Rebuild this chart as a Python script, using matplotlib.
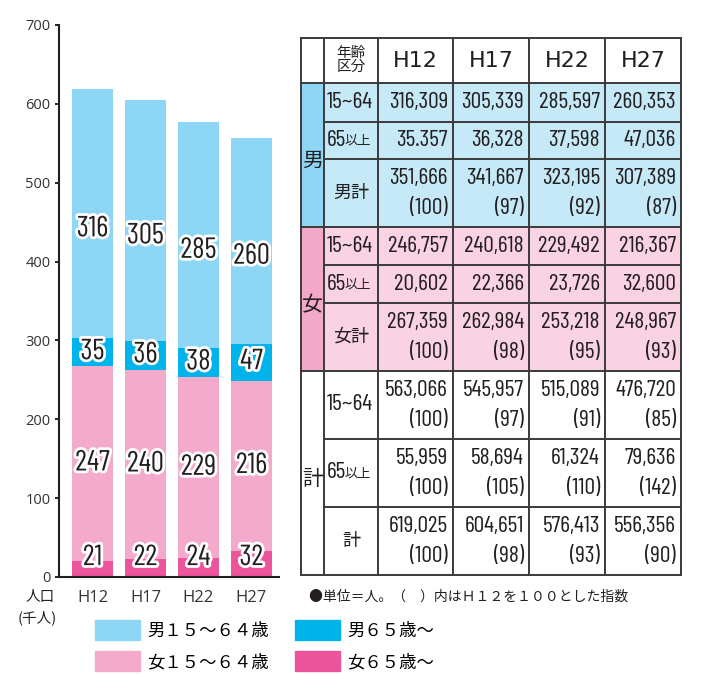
import numpy as np
import matplotlib.pyplot as plt
import matplotlib.patheffects as pe
from matplotlib.patches import Rectangle, Patch

# data (people)
years = ["H12", "H17", "H22", "H27"]
male_1564 = [316309, 305339, 285597, 260353]
male_65 = [35357, 36328, 37598, 47036]
male_total = [351666, 341667, 323195, 307389]
female_1564 = [246757, 240618, 229492, 216367]
female_65 = [20602, 22366, 23726, 32600]
female_total = [267359, 262984, 253218, 248967]
total_1564 = [563066, 545957, 515089, 476720]
total_65 = [55959, 58694, 61324, 79636]
total_all = [619025, 604651, 576413, 556356]

# index (H12 = 100)
male_total_idx = [100, 97, 92, 87]
female_total_idx = [100, 98, 95, 93]
total_1564_idx = [100, 97, 91, 85]
total_65_idx = [100, 105, 110, 142]
total_all_idx = [100, 98, 93, 90]

# labels printed on the bars (thousands)
lab_m1564 = ["316", "305", "285", "260"]
lab_m65 = ["35", "36", "38", "47"]
lab_f1564 = ["247", "240", "229", "216"]
lab_f65 = ["21", "22", "24", "32"]

# the source prints this cell with a dot
male_65_text = ["35.357", "36,328", "37,598", "47,036"]

c_m1564 = "#8dd6f5"
c_m65 = "#00b3ea"
c_f1564 = "#f3aacb"
c_f65 = "#ec559b"

NARROW = ["Barlow Condensed", "DejaVu Sans"]
JP = ["Noto Sans CJK JP", "DejaVu Sans"]
TXT = "#231f20"

fig = plt.figure(figsize=(7.13, 6.74), dpi=100)
W, H = 713, 674

# ---- stacked bars ----
ax = fig.add_axes([59 / W, 1 - 577 / H, 220 / W, 552 / H])
x = np.arange(len(years))
width = 0.774
layers = [
    (np.array(female_65) / 1000, c_f65, lab_f65),
    (np.array(female_1564) / 1000, c_f1564, lab_f1564),
    (np.array(male_65) / 1000, c_m65, lab_m65),
    (np.array(male_1564) / 1000, c_m1564, lab_m1564),
]
bottom = np.zeros(len(years))
stroke = [pe.withStroke(linewidth=4, foreground="white")]
for i, (vals, col, labs) in enumerate(layers):
    ax.bar(x, vals, width, bottom=bottom, color=col, linewidth=0)
    for xi, b, v, t in zip(x, bottom, vals, labs):
        if i == 0:
            ty = max(v / 2, 24)
        elif i == 3:
            ty = b + v / 2 - 20
        else:
            ty = b + v / 2
        ax.text(xi, ty, t, ha="center", va="center", fontsize=21,
                family=NARROW, color=TXT, path_effects=stroke)
    bottom = bottom + vals

ax.set_xlim(-0.632, 3.519)
ax.set_ylim(0, 700)
ax.set_yticks(range(0, 701, 100))
ax.set_xticks(x, years)
ax.tick_params(axis="y", length=3, width=1.2, pad=3, labelsize=10.5,
               labelcolor="#333333")
ax.tick_params(axis="x", length=0, pad=9, labelsize=12, labelcolor="#333333")
for lab in ax.get_yticklabels() + ax.get_xticklabels():
    lab.set_family("Open Sans")
for s in ["top", "right"]:
    ax.spines[s].set_visible(False)
for s in ["left", "bottom"]:
    ax.spines[s].set_linewidth(1.5)
    ax.spines[s].set_color("#231f20")

# ---- overlay in pixel coords for table and notes ----
ov = fig.add_axes([0, 0, 1, 1], facecolor="none")
ov.set_xlim(0, W)
ov.set_ylim(H, 0)
ov.axis("off")

ov.text(40, 597, "人口", ha="center", va="center", fontsize=10.5, family=JP, color=TXT)
ov.text(37, 618, "(千人)", ha="center", va="center", fontsize=10.5, family=JP, color=TXT)

col_edges = [301, 324, 378, 453, 529, 605, 681]
row_edges = [38, 83, 122, 159, 227, 265, 303, 371, 439, 507, 575]

fmt = lambda v: f"{v:,}"
sections = [
    ("男", "#8fd5f4", "#c6e9f8", [
        ("15~64", [fmt(v) for v in male_1564], None),
        ("65以上", male_65_text, None),
        ("男計", [fmt(v) for v in male_total], male_total_idx)]),
    ("女", "#f2a8c9", "#f9d3e3", [
        ("15~64", [fmt(v) for v in female_1564], None),
        ("65以上", [fmt(v) for v in female_65], None),
        ("女計", [fmt(v) for v in female_total], female_total_idx)]),
    ("計", "white", "white", [
        ("15~64", [fmt(v) for v in total_1564], total_1564_idx),
        ("65以上", [fmt(v) for v in total_65], total_65_idx),
        ("計", [fmt(v) for v in total_all], total_all_idx)]),
]

lc = "#3a3a3a"
lw = 1.4
NUM = 17
# header
ov.text(351, 60, "年齢\n区分", ha="center", va="center", fontsize=10.5,
        family=JP, color=TXT, linespacing=0.95)
for j, yr in enumerate(years):
    cx = (col_edges[j + 2] + col_edges[j + 3]) / 2
    ov.text(cx, 61, yr, ha="center", va="center", fontsize=16,
            family="DejaVu Sans", color=TXT)

r = 1
for side, c_side, c_cell, rows in sections:
    top, bot = row_edges[r], row_edges[r + 3]
    ov.add_patch(Rectangle((col_edges[0], top), col_edges[1] - col_edges[0],
                           bot - top, color=c_side, lw=0))
    ov.add_patch(Rectangle((col_edges[1], top), col_edges[-1] - col_edges[1],
                           bot - top, color=c_cell, lw=0))
    ov.text((col_edges[0] + col_edges[1]) / 2, (top + bot) / 2 + 6, side,
            ha="center", va="center", fontsize=15, family=JP, color=TXT)
    for k, (name, texts, idx) in enumerate(rows):
        y0, y1 = row_edges[r + k], row_edges[r + k + 1]
        cy = (y0 + y1) / 2
        if name == "15~64":
            ov.text(col_edges[1] + 3, cy, name, ha="left", va="center",
                    fontsize=NUM, family=NARROW, color=TXT)
        elif name == "65以上":
            ov.text(col_edges[1] + 3, cy, "65", ha="left", va="center",
                    fontsize=NUM, family=NARROW, color=TXT)
            ov.text(col_edges[1] + 21, cy + 1, "以上", ha="left", va="center",
                    fontsize=9.5, family=JP, color=TXT)
        else:
            ov.text((col_edges[1] + col_edges[2]) / 2, cy, name, ha="center",
                    va="center", fontsize=13, family=JP, color=TXT)
        for j in range(4):
            rx = col_edges[j + 3] - 5
            if idx is None:
                ov.text(rx, cy, texts[j], ha="right", va="center",
                        fontsize=NUM, family=NARROW, color=TXT)
            else:
                ov.text(rx, cy - 14, texts[j], ha="right", va="center",
                        fontsize=NUM, family=NARROW, color=TXT)
                ov.text(rx, cy + 15, f"({idx[j]})", ha="right", va="center",
                        fontsize=NUM, family=NARROW, color=TXT)
    r += 3

# grid lines
for k, yy in enumerate(row_edges):
    full = yy in (38, 83, 227, 371, 575)
    xs = col_edges[0] if full else col_edges[1]
    ov.plot([xs, col_edges[-1]], [yy, yy], color=lc, lw=lw, solid_capstyle="projecting")
for xx in col_edges:
    ov.plot([xx, xx], [row_edges[0], row_edges[-1]], color=lc, lw=lw,
            solid_capstyle="projecting")

ov.text(309, 597, "●単位＝人。（　）内はＨ１２を１００とした指数", ha="left",
        va="center", fontsize=10, family=JP, color=TXT)

# legend
handles = [Patch(color=c_m1564), Patch(color=c_f1564), Patch(color=c_m65), Patch(color=c_f65)]
labels = ["男１５～６４歳", "女１５～６４歳", "男６５歳～", "女６５歳～"]
fig.legend(handles, labels, ncol=2, loc="upper left", bbox_to_anchor=(95 / W, 1 - 620 / H),
           frameon=False, borderpad=0, borderaxespad=0,
           handlelength=2.6, handleheight=1.4, handletextpad=0.4,
           columnspacing=1.5, labelspacing=0.65, prop={"family": JP, "size": 12.5})

fig.savefig("out.png", dpi=100)
